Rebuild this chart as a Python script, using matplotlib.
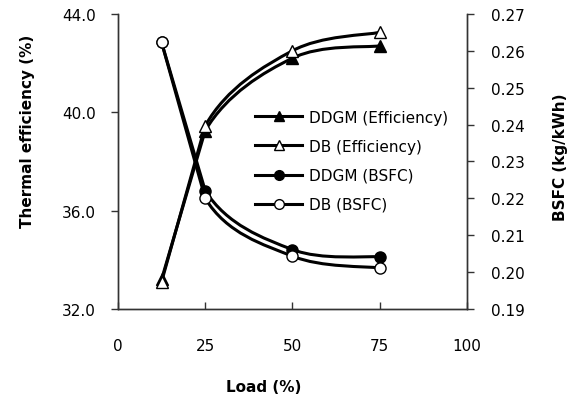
import matplotlib
matplotlib.use("Agg")
import matplotlib.pyplot as plt
from matplotlib.path import Path
from matplotlib.patches import PathPatch
from matplotlib.lines import Line2D

load = [12.5, 25, 50, 75]
eff_ddgm = [33.2, 39.25, 42.2, 42.7]
eff_db = [33.1, 39.45, 42.5, 43.25]
bsfc_ddgm = [0.2623, 0.2221, 0.2061, 0.2041]
bsfc_db = [0.2623, 0.2200, 0.2043, 0.2011]


def smooth_path(x, y):
    # first segment straight, the rest smoothed (Catmull-Rom as Beziers)
    pts = list(zip(x, y))
    n = len(pts)
    verts = [pts[0], pts[1]]
    codes = [Path.MOVETO, Path.LINETO]
    for i in range(1, n - 1):
        p0 = pts[i - 1]
        p1 = pts[i]
        p2 = pts[i + 1]
        p3 = pts[i + 2] if i + 2 < n else pts[i + 1]
        c1 = (p1[0] + (p2[0] - p0[0]) / 6, p1[1] + (p2[1] - p0[1]) / 6)
        c2 = (p2[0] - (p3[0] - p1[0]) / 6, p2[1] - (p3[1] - p1[1]) / 6)
        verts += [c1, c2, p2]
        codes += [Path.CURVE4] * 3
    return Path(verts, codes)


def draw_series(ax, x, y, marker, face, ms):
    ax.add_patch(PathPatch(smooth_path(x, y), facecolor="none",
                           edgecolor="black", lw=2.2, zorder=2,
                           capstyle="round", joinstyle="round"))
    ax.plot(x, y, ls="none", marker=marker, ms=ms, mfc=face, mec="black",
            mew=1, zorder=3)


fig = plt.figure(figsize=(5.78, 4.02), dpi=100)
ax = fig.add_axes([0.204, 0.229, 0.604, 0.734])
ax2 = ax.twinx()

draw_series(ax, load, eff_ddgm, "^", "black", 9)
draw_series(ax, load, eff_db, "^", "white", 9)
draw_series(ax2, load, bsfc_ddgm, "o", "black", 8)
draw_series(ax2, load, bsfc_db, "o", "white", 8)

ax.set_xlim(0, 100)
ax.set_ylim(32, 44)
ax2.set_ylim(0.19, 0.27)
ax.set_xticks([0, 25, 50, 75, 100])
ax.set_yticks([32, 36, 40, 44])
ax.set_yticklabels(["32.0", "36.0", "40.0", "44.0"])
ax2.set_yticks([0.19 + 0.01 * i for i in range(9)])
ax2.set_yticklabels(["%.2f" % (0.19 + 0.01 * i) for i in range(9)])

for a in (ax, ax2):
    a.spines["top"].set_visible(False)
    for s in ("left", "right", "bottom"):
        a.spines[s].set_color("#333333")
        a.spines[s].set_linewidth(1)
ax.tick_params(axis="y", direction="out", length=5, width=1, color="#333333",
               labelsize=11, pad=11)
ax.tick_params(axis="x", direction="in", length=5, width=1, color="#333333",
               labelsize=11, pad=21)
ax2.tick_params(axis="y", direction="out", length=5, width=1, color="#333333",
                labelsize=11, pad=12)

fig.text(264 / 578, 1 - 388 / 402, "Load (%)", fontsize=11, fontweight="bold",
         ha="center", va="center")
fig.text(28 / 578, 1 - 131 / 402, "Thermal efficiency (%)", fontsize=11,
         fontweight="bold", ha="center", va="center", rotation=90)
fig.text(560 / 578, 1 - 157 / 402, "BSFC (kg/kWh)", fontsize=11,
         fontweight="bold", ha="center", va="center", rotation=90)

handles = [
    Line2D([], [], color="black", lw=2.2, marker="^", ms=7, mfc="black", mec="black"),
    Line2D([], [], color="black", lw=2.2, marker="^", ms=7, mfc="white", mec="black"),
    Line2D([], [], color="black", lw=2.2, marker="o", ms=7, mfc="black", mec="black"),
    Line2D([], [], color="black", lw=2.2, marker="o", ms=7, mfc="white", mec="black"),
]
labels = ["DDGM (Efficiency)", "DB (Efficiency)", "DDGM (BSFC)", "DB (BSFC)"]
ax2.legend(handles, labels, loc="upper left", bbox_to_anchor=(0.393, 0.675),
           frameon=False, fontsize=11, handlelength=3.1, handletextpad=0.45,
           labelspacing=0.92, borderaxespad=0, borderpad=0)

fig.savefig("out.png", dpi=100)
